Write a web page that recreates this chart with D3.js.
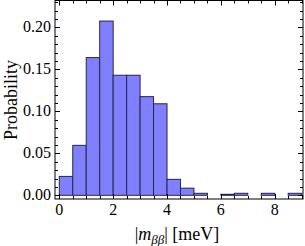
<!DOCTYPE html>
<html><head><meta charset="utf-8">
<script src="https://cdn.jsdelivr.net/npm/d3@7"></script>
<style>body{margin:0;background:#fff}svg{display:block}</style>
</head><body>
<script>
const binStarts = [0,0.5,1,1.5,2,2.5,3,3.5,4,4.5,5,5.5,6,6.5,7,7.5,8,8.5];
const probs = [0.0225,0.0595,0.164,0.2075,0.143,0.143,0.1175,0.109,0.019,0.0085,0.0024,0,0.0012,0.0024,0,0.0024,0,0.0024];
const binWidth = 0.5;
const xTicks = [0,2,4,6,8];
const yTicks = [0,0.05,0.10,0.15,0.20];

const W=305,H=246;
const svg=d3.select("body").append("svg").attr("width",W).attr("height",H);
const L=55,R=303,T=0.5,B=199;
const x=d3.scaleLinear().domain([-0.16,9.05]).range([L,R]);
const y=d3.scaleLinear().domain([-0.0044,0.232]).range([B,T]);
const font="'Liberation Serif','Times New Roman',serif";

const data=binStarts.map((s,i)=>({s,p:probs[i]})).filter(d=>d.p>0);
svg.append("g").selectAll("rect").data(data).join("rect")
 .attr("x",d=>x(d.s)).attr("width",d=>x(d.s+binWidth)-x(d.s))
 .attr("y",d=>y(d.p)).attr("height",d=>y(0)-y(d.p))
 .attr("fill","#8080ff").attr("stroke","#26264a").attr("stroke-width",1);

// frame
svg.append("rect").attr("x",L).attr("y",T).attr("width",R-L).attr("height",B-T)
 .attr("fill","none").attr("stroke","#000").attr("stroke-width",1);

// x ticks
const xMinor=d3.range(0,9.01,0.5);
const gx=svg.append("g").attr("stroke","#000").attr("stroke-width",1);
xMinor.forEach(v=>{
  const major=Math.abs(v%2)<1e-9;
  const len=major?5:3;
  const px=Math.round(x(v))+0.5;
  gx.append("line").attr("x1",px).attr("x2",px).attr("y1",B).attr("y2",B-len);
  gx.append("line").attr("x1",px).attr("x2",px).attr("y1",T).attr("y2",T+len);
});
const yMinor=d3.range(0,0.2301,0.01);
yMinor.forEach(v=>{
  const major=Math.abs(Math.round(v*100)%5)===0;
  const len=major?5:3;
  const py=Math.round(y(v))+0.5;
  gx.append("line").attr("x1",L).attr("x2",L+len).attr("y1",py).attr("y2",py);
  gx.append("line").attr("x1",R).attr("x2",R-len).attr("y1",py).attr("y2",py);
});

svg.append("g").selectAll("text").data(xTicks).join("text")
 .attr("x",d=>x(d)).attr("y",215).attr("text-anchor","middle")
 .attr("font-family",font).attr("font-size",16).text(d=>d);
svg.append("g").selectAll("text").data(yTicks).join("text")
 .attr("x",51).attr("y",d=>y(d)+5).attr("text-anchor","end")
 .attr("font-family",font).attr("font-size",16).text(d=>d.toFixed(2));

svg.append("text").attr("transform","translate(17,100) rotate(-90)")
 .attr("text-anchor","middle").attr("font-family",font).attr("font-size",18).text("Probability");

const xl=svg.append("text").attr("x",177).attr("y",240).attr("text-anchor","middle")
 .attr("font-family",font).attr("font-size",18);
xl.append("tspan").text("|");
xl.append("tspan").attr("font-style","italic").text("m");
xl.append("tspan").attr("font-style","italic").attr("font-size",13).attr("dy",4).text("ββ");
xl.append("tspan").attr("dy",-4).text("| [meV]");
</script>
</body></html>
